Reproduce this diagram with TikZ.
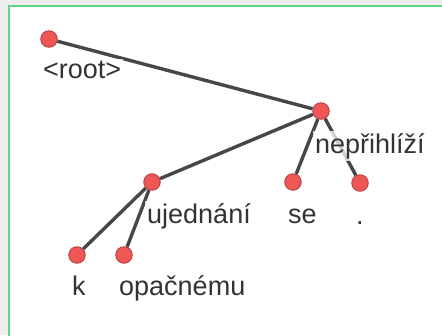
\documentclass[tikz,border=0pt]{standalone}
\usepackage{fontspec}
\setmainfont{Liberation Sans}
\usepackage{tikz}
\definecolor{vxred}{HTML}{EF5656}
\definecolor{vxrim}{HTML}{B94040}
\definecolor{edgegray}{HTML}{474747}
\definecolor{txtgray}{HTML}{333333}
\definecolor{framegreen}{HTML}{62D58E}
\definecolor{pagegray}{HTML}{EEEEEE}
\tikzstyle{vx}=[shape=circle, minimum size=16.5pt, inner sep=0, fill=vxred, draw=vxrim, line width=0.9pt]
\tikzstyle{dep}=[line width=3.4pt, draw=edgegray]
\tikzstyle{wd}=[anchor=base west, inner sep=2pt, fill=white, fill opacity=0.75, text opacity=1, text=txtgray, font=\fontsize{27}{32}\selectfont]

\begin{document}
\begin{tikzpicture}[x=1pt,y=-1pt]
\useasboundingbox (0,0) rectangle (442,335);
\fill[pagegray] (0,0) rectangle (442,335);
\draw[framegreen, line width=2pt, fill=white] (9,6) rectangle (460,360);
\node at (49,39)[vx](0){};
\node at (321,111)[vx](1){};
\node at (152,182)[vx](2){};
\node at (293,182)[vx](3){};
\node at (360,183)[vx](4){};
\node at (77,255)[vx](5){};
\node at (124,255)[vx](6){};
\draw[dep] (0)--(1);
\draw[dep] (1)--(2);
\draw[dep] (1)--(3);
\draw[dep] (1)--(4);
\draw[dep] (2)--(5);
\draw[dep] (2)--(6);
\node at ([shift={(-8,39)}]0.center)[wd](l0){<root>};
\node at ([shift={(-8,42)}]1.center)[wd](l1){nepřihlíží};
\node at ([shift={(-7,41)}]2.center)[wd](l2){ujednání};
\node at ([shift={(-7,41)}]3.center)[wd](l3){se};
\node at ([shift={(-6,41)}]4.center)[wd](l4){.};
\node at ([shift={(-7,40)}]5.center)[wd](l5){k};
\node at ([shift={(-7,40)}]6.center)[wd](l6){opačnému};
\end{tikzpicture}
\end{document}
